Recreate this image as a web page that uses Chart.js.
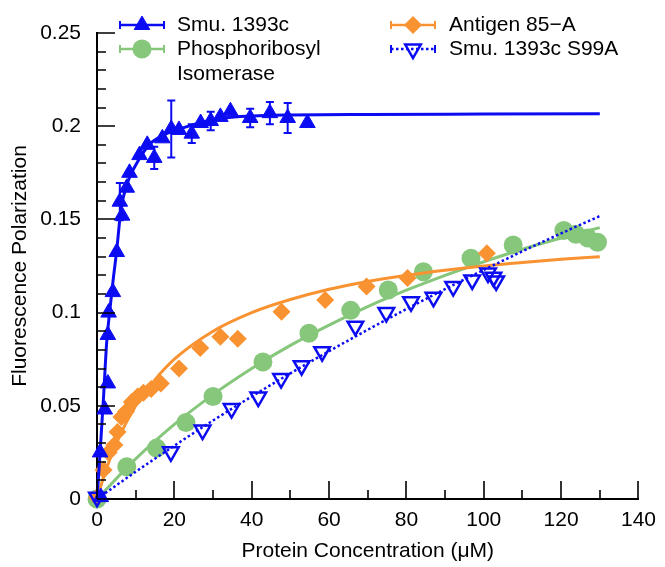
<!DOCTYPE html>
<html><head><meta charset="utf-8">
<script src="https://cdn.jsdelivr.net/npm/chart.js@4.4.0/dist/chart.umd.min.js"></script>
<style>html,body{margin:0;padding:0;background:#fff;}#wrap{width:665px;height:567px;position:relative;}</style>
</head><body><div id="wrap"><canvas id="c" width="665" height="567"></canvas></div>
<script>
// ---------- data ----------
const smuX   = [1.0, 0.8, 2.0, 2.8, 2.8, 3.0, 4.1, 5.1, 6.5, 5.9, 7.7, 8.4, 11.0, 13.0, 14.8, 16.9, 19.2, 21.2, 24.5, 26.8, 29.4, 31.9, 34.5, 39.6, 44.7, 49.3, 54.4];
const smuY   = [0.001, 0.025, 0.048, 0.062, 0.088, 0.100, 0.111, 0.1325, 0.152, 0.1595, 0.167, 0.175, 0.1845, 0.190, 0.183, 0.1935, 0.1985, 0.198, 0.196, 0.2017, 0.2028, 0.205, 0.208, 0.2044, 0.207, 0.2044, 0.2017];
const smuErr = [0, 0, 0, 0, 0, 0, 0, 0, 0, 0.010, 0, 0, 0, 0, 0.006, 0, 0.0153, 0, 0.005, 0, 0.005, 0, 0, 0.005, 0.006, 0.008, 0];
const smuFitX = [0, 0.8, 1.7, 2.5, 3.3, 4.2, 5.1, 5.9, 6.5, 7.5, 8.5, 9.7, 12, 14, 18, 22, 27, 33, 40, 50, 70, 100, 130];
const smuFitY = [0, 0.025, 0.055, 0.084, 0.101, 0.118, 0.1335, 0.150, 0.159, 0.167, 0.173, 0.178, 0.186, 0.191, 0.196, 0.199, 0.202, 0.2045, 0.2055, 0.206, 0.2063, 0.2065, 0.2067];

const agX = [0, 1.7, 3.0, 4.5, 5.3, 6.3, 7.5, 9.0, 10.5, 12, 14, 16.5, 21.2, 26.7, 31.9, 36.4, 47.7, 59, 69.7, 80.3, 100.8];
const agY = [0.001, 0.0156, 0.025, 0.029, 0.036, 0.044, 0.047, 0.052, 0.055, 0.057, 0.059, 0.062, 0.070, 0.081, 0.087, 0.086, 0.1004, 0.1068, 0.114, 0.1186, 0.1318];
const agFitX = [0, 2, 5, 10, 15, 20, 30, 40, 50, 60, 70, 80, 90, 100, 110, 120, 130];
const agFitY = [0, 0.0136, 0.030, 0.050, 0.064, 0.075, 0.090, 0.100, 0.107, 0.1125, 0.1167, 0.120, 0.1227, 0.125, 0.1269, 0.1286, 0.130];

const priX = [0, 7.7, 15.4, 23, 30, 42.9, 54.8, 65.6, 75.3, 84.4, 96.7, 107.6, 120.7, 123.8, 126.9, 129.4];
const priY = [0, 0.0173, 0.0273, 0.041, 0.055, 0.0735, 0.0889, 0.1012, 0.1121, 0.1219, 0.1292, 0.1363, 0.144, 0.142, 0.140, 0.1377];
const priFitX = [0, 10, 20, 30, 40, 50, 60, 70, 80, 90, 100, 110, 120, 130];
const priFitY = [0, 0.0215, 0.040, 0.056, 0.070, 0.0824, 0.0933, 0.1032, 0.112, 0.120, 0.1273, 0.134, 0.140, 0.1456];

const s99X = [0, 19.1, 27.3, 34.8, 41.7, 47.6, 52.9, 58.2, 66.8, 74.8, 81.2, 87.0, 92.1, 97.0, 101.1, 102.5, 103.2];
const s99Y = [0.001, 0.0253, 0.037, 0.0485, 0.0547, 0.0646, 0.0715, 0.079, 0.0927, 0.100, 0.1058, 0.1082, 0.114, 0.1175, 0.1212, 0.119, 0.117];
const s99FitX = [0, 10, 20, 30, 40, 50, 60, 70, 80, 90, 100, 110, 120, 130];
const s99FitY = [0, 0.0146, 0.0286, 0.0421, 0.055, 0.0674, 0.0793, 0.0908, 0.1019, 0.1126, 0.1229, 0.1329, 0.1425, 0.1518];

const legendLabels = ['Smu. 1393c', ['Phosphoribosyl', 'Isomerase'], 'Antigen 85\u2212A', 'Smu. 1393c S99A'];
const xMajorTicks = [0, 20, 40, 60, 80, 100, 120, 140];
const xMinorTicks = [10, 30, 50, 70, 90, 110, 130];
const yMajorTicks = [0, 0.05, 0.1, 0.15, 0.2, 0.25];
const yTickLabels = ['0', '0.05', '0.1', '0.15', '0.2', '0.25'];
const yMinorTicks = [0.01,0.02,0.03,0.04,0.06,0.07,0.08,0.09,0.11,0.12,0.13,0.14,0.16,0.17,0.18,0.19,0.21,0.22,0.23,0.24];
const xTitle = 'Protein Concentration (\u03bcM)';
const yTitle = 'Fluorescence Polarization';

// ---------- styles ----------
const BLUE = '#0c0cf2', ORANGE = '#f99332', GREEN = '#86c77c';
const FONT = '"Liberation Sans", Arial, Helvetica, sans-serif';
Chart.defaults.font.family = FONT;
Chart.defaults.font.size = 21;
Chart.defaults.color = '#000';

const pts = (xs, ys) => xs.map((x, i) => ({x: x, y: ys[i]}));

const markerStyles = [
  {color: BLUE, pointStyle: 'triangle', radius: 9, rotation: 0, fill: BLUE, borderWidth: 1, dash: []},
  {color: GREEN, pointStyle: 'circle', radius: 9.5, rotation: 0, fill: GREEN, borderWidth: 0, dash: []},
  {color: ORANGE, pointStyle: 'rectRot', radius: 9, rotation: 0, fill: ORANGE, borderWidth: 0, dash: []},
  {color: BLUE, pointStyle: 'triangle', radius: 9, rotation: 180, fill: 'rgba(0,0,0,0)', borderWidth: 2.5, dash: [2.5, 2.5]}
];

const datasets = [
  {label: 'Smu. 1393c', data: pts(smuX, smuY), showLine: false, pointStyle: 'triangle', pointRadius: 9, pointBackgroundColor: BLUE, pointBorderColor: BLUE, pointBorderWidth: 1, order: 3, clip: false},
  {label: 'smuFit', data: pts(smuFitX, smuFitY), showLine: true, pointRadius: 0, borderColor: BLUE, borderWidth: 3, cubicInterpolationMode: 'monotone', order: 4, clip: false},
  {label: 'Antigen 85-A', data: pts(agX, agY), showLine: false, pointStyle: 'rectRot', pointRadius: 9, pointBackgroundColor: ORANGE, pointBorderColor: ORANGE, pointBorderWidth: 0, order: 7, clip: false},
  {label: 'agFit', data: pts(agFitX, agFitY), showLine: true, pointRadius: 0, borderColor: ORANGE, borderWidth: 3, cubicInterpolationMode: 'monotone', order: 8, clip: false},
  {label: 'Phosphoribosyl Isomerase', data: pts(priX, priY), showLine: false, pointStyle: 'circle', pointRadius: 9.5, pointBackgroundColor: GREEN, pointBorderColor: GREEN, pointBorderWidth: 0, order: 9, clip: false},
  {label: 'priFit', data: pts(priFitX, priFitY), showLine: true, pointRadius: 0, borderColor: GREEN, borderWidth: 3, cubicInterpolationMode: 'monotone', order: 10, clip: false},
  {label: 'Smu. 1393c S99A', data: pts(s99X, s99Y), showLine: false, pointStyle: 'triangle', rotation: 180, pointRadius: 9, pointBackgroundColor: 'rgba(255,255,255,0)', pointBorderColor: BLUE, pointBorderWidth: 2.5, order: 6, clip: false},
  {label: 's99Fit', data: pts(s99FitX, s99FitY), showLine: true, pointRadius: 0, borderColor: BLUE, borderWidth: 2.5, borderDash: [2.5, 2.5], cubicInterpolationMode: 'monotone', order: 5, clip: false}
];

// inward major/minor ticks
const tickPlugin = {
  id: 'inwardTicks',
  afterDraw(chart) {
    const {ctx, chartArea: a, scales: {x, y}} = chart;
    ctx.save();
    ctx.strokeStyle = '#000';
    ctx.lineWidth = 1.6;
    ctx.beginPath();
    xMajorTicks.forEach(v => { const p = Math.round(x.getPixelForValue(v)); ctx.moveTo(p, a.bottom); ctx.lineTo(p, a.bottom - 18); });
    xMinorTicks.forEach(v => { const p = Math.round(x.getPixelForValue(v)); ctx.moveTo(p, a.bottom); ctx.lineTo(p, a.bottom - 9); });
    yMajorTicks.forEach(v => { const p = Math.round(y.getPixelForValue(v)); ctx.moveTo(a.left, p); ctx.lineTo(a.left + 18, p); });
    yMinorTicks.forEach(v => { const p = Math.round(y.getPixelForValue(v)); ctx.moveTo(a.left, p); ctx.lineTo(a.left + 9, p); });
    ctx.stroke();
    ctx.restore();
  }
};

// error bars for Smu. 1393c
const errPlugin = {
  id: 'errBars',
  afterDatasetsDraw(chart) {
    const {ctx, scales: {x, y}} = chart;
    ctx.save();
    ctx.strokeStyle = BLUE;
    ctx.lineWidth = 2;
    ctx.beginPath();
    smuX.forEach((xv, i) => {
      const e = smuErr[i];
      if (!e) return;
      const px = x.getPixelForValue(xv);
      const y1 = y.getPixelForValue(smuY[i] + e), y2 = y.getPixelForValue(smuY[i] - e);
      ctx.moveTo(px, y1); ctx.lineTo(px, y2);
      ctx.moveTo(px - 4, y1); ctx.lineTo(px + 4, y1);
      ctx.moveTo(px - 4, y2); ctx.lineTo(px + 4, y2);
    });
    ctx.stroke();
    ctx.restore();
  }
};

// legend drawn in two columns like the reference
const legendPlugin = {
  id: 'customLegend',
  afterDraw(chart) {
    const ctx = chart.ctx;
    const slots = [
      {x1: 120, x2: 164, ty: 25, tx: 177},
      {x1: 120, x2: 164, ty: 49, tx: 177},
      {x1: 391, x2: 435, ty: 25, tx: 449},
      {x1: 391, x2: 435, ty: 49, tx: 449}
    ];
    ctx.save();
    slots.forEach((s, i) => {
      const m = markerStyles[i];
      ctx.strokeStyle = m.color;
      ctx.lineWidth = 2.5;
      ctx.setLineDash(m.dash);
      ctx.beginPath(); ctx.moveTo(s.x1, s.ty); ctx.lineTo(s.x2, s.ty); ctx.stroke();
      ctx.setLineDash([]);
      ctx.lineWidth = 2;
      ctx.beginPath();
      ctx.moveTo(s.x1, s.ty - 4); ctx.lineTo(s.x1, s.ty + 4);
      ctx.moveTo(s.x2, s.ty - 4); ctx.lineTo(s.x2, s.ty + 4);
      ctx.stroke();
      ctx.fillStyle = m.fill;
      ctx.strokeStyle = m.color;
      ctx.lineWidth = m.borderWidth || 0.01;
      Chart.helpers.drawPoint(ctx, {pointStyle: m.pointStyle, radius: m.radius, rotation: m.rotation, borderWidth: m.borderWidth}, (s.x1 + s.x2) / 2, s.ty);
      ctx.fillStyle = '#000';
      ctx.font = '21px ' + FONT;
      ctx.textAlign = 'left';
      ctx.textBaseline = 'middle';
      const lab = legendLabels[i];
      if (Array.isArray(lab)) {
        lab.forEach((t, k) => ctx.fillText(t, s.tx, s.ty + k * 25));
      } else {
        ctx.fillText(lab, s.tx, s.ty);
      }
    });
    ctx.restore();
  }
};

new Chart(document.getElementById('c'), {
  type: 'scatter',
  data: {datasets: datasets},
  plugins: [tickPlugin, errPlugin, legendPlugin],
  options: {
    responsive: false,
    animation: false,
    events: [],
    layout: {padding: {top: 33, right: 20, bottom: 0, left: 0}},
    plugins: {legend: {display: false}, tooltip: {enabled: false}},
    scales: {
      x: {
        type: 'linear', min: 0, max: 140,
        afterBuildTicks: s => { s.ticks = xMajorTicks.map(v => ({value: v})); },
        afterFit: s => { s.height = 68; },
        ticks: {padding: 9, color: '#000', autoSkip: false, maxRotation: 0, callback: v => String(v)},
        grid: {display: false, drawTicks: false},
        border: {display: true, color: '#000', width: 2},
        title: {display: true, text: xTitle, color: '#000', padding: {top: 0, bottom: 3}}
      },
      y: {
        type: 'linear', min: 0, max: 0.25,
        afterBuildTicks: s => { s.ticks = yMajorTicks.map(v => ({value: v})); },
        afterFit: s => { s.width = 97; },
        ticks: {padding: 16, color: '#000', autoSkip: false, callback: v => yTickLabels[yMajorTicks.indexOf(v)]},
        grid: {display: false, drawTicks: false},
        border: {display: true, color: '#000', width: 2},
        title: {display: true, text: yTitle, color: '#000', padding: {top: 8, bottom: 0}}
      }
    }
  }
});
</script>
</body></html>
